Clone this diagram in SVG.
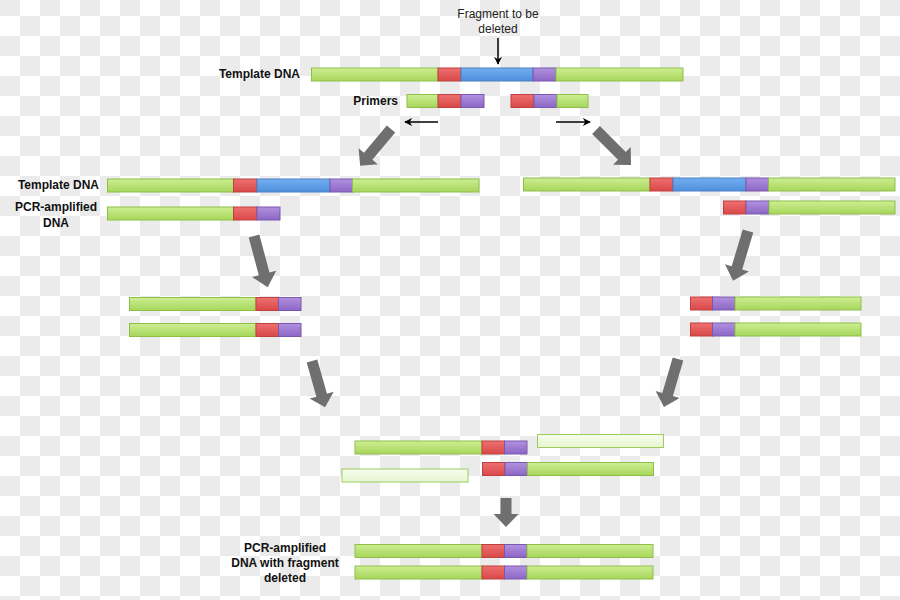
<svg xmlns="http://www.w3.org/2000/svg" xmlns:xlink="http://www.w3.org/1999/xlink" width="900" height="600" viewBox="0 0 900 600">
<defs>
<pattern id="checker" x="0" y="-4" width="40" height="40" patternUnits="userSpaceOnUse">
<rect width="40" height="40" fill="#ffffff"/>
<rect x="0" y="0" width="20" height="20" fill="#ebebeb"/>
<rect x="20" y="20" width="20" height="20" fill="#ebebeb"/>
</pattern>
<linearGradient id="gG" x1="0" y1="0" x2="0" y2="1"><stop offset="0" stop-color="#cdee93"/><stop offset="1" stop-color="#a6d65a"/></linearGradient>
<linearGradient id="gR" x1="0" y1="0" x2="0" y2="1"><stop offset="0" stop-color="#ee7070"/><stop offset="1" stop-color="#d94848"/></linearGradient>
<linearGradient id="gB" x1="0" y1="0" x2="0" y2="1"><stop offset="0" stop-color="#74aef0"/><stop offset="1" stop-color="#4f8fdc"/></linearGradient>
<linearGradient id="gP" x1="0" y1="0" x2="0" y2="1"><stop offset="0" stop-color="#b191e0"/><stop offset="1" stop-color="#8c66c4"/></linearGradient>
<linearGradient id="gL" x1="0" y1="0" x2="0" y2="1"><stop offset="0" stop-color="#f7fdee"/><stop offset="1" stop-color="#e6f6cf"/></linearGradient>
<polygon id="blk" points="0,-5.5 37,-5.5 37,-12.5 50,0 37,12.5 37,5.5 0,5.5"/>
<marker id="ah" viewBox="0 0 10 10" refX="9" refY="5" markerWidth="8" markerHeight="8" markerUnits="userSpaceOnUse" orient="auto">
<path d="M0,0 L10,5 L0,10 L3,5 Z" fill="#000"/>
</marker>
</defs>
<style>
.g{fill:url(#gG);stroke:#8fbf4a;stroke-width:1}
.r{fill:url(#gR);stroke:#c04040;stroke-width:1}
.b{fill:url(#gB);stroke:#4a80c4;stroke-width:1}
.p{fill:url(#gP);stroke:#7a58b0;stroke-width:1}
.l{fill:url(#gL);stroke:#9ccc60;stroke-width:1}
.lbl{font-family:"Liberation Sans",Arial,sans-serif;font-size:12px;font-weight:bold;fill:#111}
.txt{font-family:"Liberation Sans",Arial,sans-serif;font-size:12px;fill:#222}
.big{fill:#6f6f6f}
.thin{stroke:#000;stroke-width:1.5;fill:none;marker-end:url(#ah)}
</style>
<rect width="900" height="600" fill="url(#checker)"/>

<g id="label-fragment">
<text class="txt" x="498" y="18" text-anchor="middle">Fragment to be</text>
<text class="txt" x="498" y="33" text-anchor="middle">deleted</text>
</g>
<g id="label-template-top"><text class="lbl" x="300" y="78" text-anchor="end">Template DNA</text></g>
<g id="label-primers"><text class="lbl" x="398" y="105" text-anchor="end">Primers</text></g>
<g id="label-template-left"><text class="lbl" x="99" y="189" text-anchor="end">Template DNA</text></g>
<g id="label-pcr-left">
<text class="lbl" x="56" y="211" text-anchor="middle">PCR-amplified</text>
<text class="lbl" x="56" y="227" text-anchor="middle">DNA</text>
</g>
<g id="label-final">
<text class="lbl" x="285" y="552" text-anchor="middle">PCR-amplified</text>
<text class="lbl" x="285" y="567" text-anchor="middle">DNA with fragment</text>
<text class="lbl" x="285" y="582" text-anchor="middle">deleted</text>
</g>

<g id="template-top">
<rect class="g" x="311.5" y="68" width="126.5" height="13"/>
<rect class="r" x="438" y="68" width="23" height="13"/>
<rect class="b" x="461" y="68" width="72" height="13"/>
<rect class="p" x="533" y="68" width="23" height="13"/>
<rect class="g" x="556" y="68" width="127" height="13"/>
</g>
<g id="primer-left">
<rect class="g" x="407" y="94.5" width="31" height="13"/>
<rect class="r" x="438" y="94.5" width="23" height="13"/>
<rect class="p" x="461" y="94.5" width="23" height="13"/>
</g>
<g id="primer-right">
<rect class="r" x="511" y="94.5" width="23" height="13"/>
<rect class="p" x="534" y="94.5" width="23" height="13"/>
<rect class="g" x="557" y="94.5" width="31" height="13"/>
</g>

<g id="template-left">
<rect class="g" x="107.5" y="179" width="126" height="13"/>
<rect class="r" x="233.5" y="179" width="23.5" height="13"/>
<rect class="b" x="257" y="179" width="73" height="13"/>
<rect class="p" x="330" y="179" width="22.5" height="13"/>
<rect class="g" x="352.5" y="179" width="126.5" height="13"/>
</g>
<g id="pcr-left">
<rect class="g" x="107.5" y="207" width="126" height="13"/>
<rect class="r" x="233.5" y="207" width="23.5" height="13"/>
<rect class="p" x="257" y="207" width="23" height="13"/>
</g>
<g id="template-right">
<rect class="g" x="523.5" y="178" width="126.5" height="13"/>
<rect class="r" x="650" y="178" width="23" height="13"/>
<rect class="b" x="673" y="178" width="73" height="13"/>
<rect class="p" x="746" y="178" width="22.5" height="13"/>
<rect class="g" x="768.5" y="178" width="126.5" height="13"/>
</g>
<g id="pcr-right">
<rect class="r" x="723.5" y="201" width="22.5" height="13"/>
<rect class="p" x="746" y="201" width="23" height="13"/>
<rect class="g" x="769" y="201" width="126" height="13"/>
</g>

<g id="amp-left-1">
<rect class="g" x="129.5" y="297.5" width="126.5" height="13"/>
<rect class="r" x="256" y="297.5" width="22.5" height="13"/>
<rect class="p" x="278.5" y="297.5" width="22.5" height="13"/>
</g>
<g id="amp-left-2">
<rect class="g" x="129.5" y="323.5" width="126.5" height="13"/>
<rect class="r" x="256" y="323.5" width="22.5" height="13"/>
<rect class="p" x="278.5" y="323.5" width="22.5" height="13"/>
</g>
<g id="amp-right-1">
<rect class="r" x="690.5" y="297" width="22" height="13"/>
<rect class="p" x="712.5" y="297" width="22.5" height="13"/>
<rect class="g" x="735" y="297" width="126" height="13"/>
</g>
<g id="amp-right-2">
<rect class="r" x="690.5" y="323" width="22" height="13"/>
<rect class="p" x="712.5" y="323" width="22.5" height="13"/>
<rect class="g" x="735" y="323" width="126" height="13"/>
</g>

<g id="anneal-a">
<rect class="g" x="355" y="441" width="127" height="13"/>
<rect class="r" x="482" y="441" width="22.5" height="13"/>
<rect class="p" x="504.5" y="441" width="22.5" height="13"/>
</g>
<g id="light-top"><rect class="l" x="537.5" y="434.5" width="126" height="13"/></g>
<g id="anneal-b">
<rect class="r" x="482.5" y="462.5" width="22.5" height="13"/>
<rect class="p" x="505" y="462.5" width="22.5" height="13"/>
<rect class="g" x="527.5" y="462.5" width="126" height="13"/>
</g>
<g id="light-left"><rect class="l" x="342" y="469" width="126" height="13"/></g>

<g id="final-1">
<rect class="g" x="355" y="544.5" width="127" height="13"/>
<rect class="r" x="482" y="544.5" width="22.5" height="13"/>
<rect class="p" x="504.5" y="544.5" width="22.5" height="13"/>
<rect class="g" x="527" y="544.5" width="126" height="13"/>
</g>
<g id="final-2">
<rect class="g" x="355" y="566" width="127" height="13"/>
<rect class="r" x="482" y="566" width="22.5" height="13"/>
<rect class="p" x="504.5" y="566" width="22.5" height="13"/>
<rect class="g" x="527" y="566" width="126" height="13"/>
</g>

<g id="connectors">
<line class="thin" x1="498" y1="38" x2="498" y2="64"/>
<line class="thin" x1="438" y1="122" x2="405" y2="122"/>
<line class="thin" x1="556" y1="122" x2="590" y2="122"/>
<use xlink:href="#blk" class="big" transform="translate(391,129) rotate(130) scale(0.96,1)"/>
<use xlink:href="#blk" class="big" transform="translate(596,130) rotate(45) scale(0.99,1)"/>
<use xlink:href="#blk" class="big" transform="translate(254,236) rotate(75) scale(1.06,1)"/>
<use xlink:href="#blk" class="big" transform="translate(748,231) rotate(106.7) scale(1.04,1)"/>
<use xlink:href="#blk" class="big" transform="translate(312,361) rotate(74.2) scale(0.96,1)"/>
<use xlink:href="#blk" class="big" transform="translate(678,359) rotate(106.3) scale(1.0,1)"/>
<polygon class="big" points="500.5,498 511.5,498 511.5,514 518.5,514 506,527 493.5,514 500.5,514"/>
</g>
</svg>
